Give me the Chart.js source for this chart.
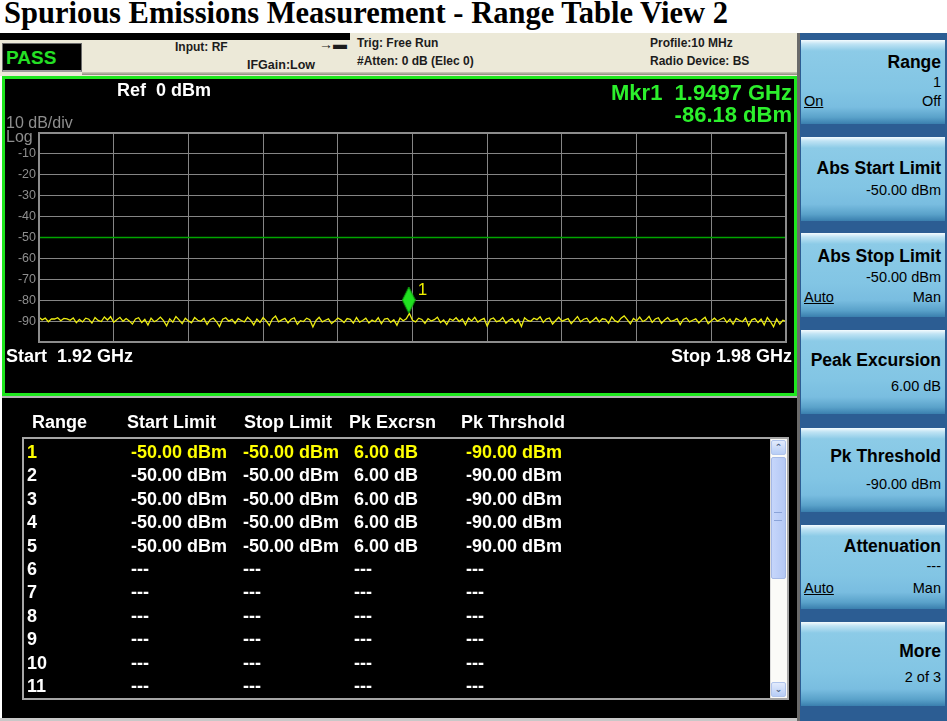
<!DOCTYPE html>
<html>
<head>
<meta charset="utf-8">
<script src="https://cdn.jsdelivr.net/npm/chart.js@4.4.1/dist/chart.umd.min.js"></script>
<style>
  html, body { margin: 0; padding: 0; }
  body { width: 947px; height: 721px; position: relative; overflow: hidden; background: #fff;
         font-family: "Liberation Sans", Arial, sans-serif; }
  .abs { position: absolute; white-space: nowrap; }
  #title { left: 4px; top: -4px; font: bold 30.5px "Liberation Serif", "Times New Roman", serif; color: #000; }
  #status { left: 0; top: 33px; width: 797px; height: 43px; background: #ece9d8; }
  #statusStrip { left: 0; top: 33px; width: 350px; height: 7px; background: #000; }
  #statusShade { left: 82px; top: 72px; width: 715px; height: 3px; background: linear-gradient(#d0cdbd, #8d8a7e); }
  #pass { left: 2px; top: 43px; width: 80px; height: 29px; background: #000; border: 1px solid #6c6c6c;
          border-bottom: 2px solid #9a9a9a; color: #25e025; font: bold 19px/28px "Liberation Sans", Arial, sans-serif; padding-left: 3px; box-sizing: border-box; }
  .st { font: bold 12px "Liberation Sans", Arial, sans-serif; color: #1c1c1c; line-height: 14px; }
  #chartPanel { left: 2px; top: 76px; width: 795px; height: 320px; border: 3px solid #1ee61e; box-sizing: border-box; background: #000; }
  #spec { position: absolute; left: 5px; top: 79px; }
  .wt { color: #fff; font: bold 18px "Liberation Sans", Arial, sans-serif; line-height: 20px; }
  .gr { color: #8e8e8e; font: 16px "Liberation Sans", Arial, sans-serif; line-height: 16px; }
  .mk { color: #2cf02c; font: bold 22px "Liberation Sans", Arial, sans-serif; line-height: 22px; text-align: right; }
  #tablePanel { left: 2px; top: 396px; width: 795px; height: 322px; background: #000; border-top: 2px solid #b4b4b4; box-sizing: border-box; }
  #listBox { left: 22px; top: 437px; width: 767px; height: 263px; border: 2px solid #a6a6a6; box-sizing: border-box; background: #000; }
  .tx { font: bold 18px "Liberation Sans", Arial, sans-serif; line-height: 20px; color: #fff; }
  .hl { color: #ffff00; }
  #sbTrack { left: 770px; top: 439px; width: 17px; height: 259px; background: #fbfbf8; border-left: 1px solid #dcdcdc; box-sizing: border-box; }
  .sbBtn { width: 15px; height: 15px; background: linear-gradient(#e2ebfc, #b7cdf6); border: 1px solid #b0c4ec; border-radius: 2px; box-sizing: border-box;
           color: #4d6185; font: bold 9px/13px "DejaVu Sans", sans-serif; text-align: center; }
  #sbThumb { left: 771px; top: 457px; width: 15px; height: 122px; background: linear-gradient(90deg, #c6d6fb, #b4c8f4); border: 1px solid #a5b9e6; border-radius: 2px; box-sizing: border-box; }
  #rightPanel { left: 797px; top: 33px; width: 150px; height: 688px; background: #2c5d93; border-left: 3px solid #6a6a6a; box-sizing: border-box; }
  .key { left: 801px; width: 144px; height: 84px;
         background: linear-gradient(to bottom, #f4fbfe 0px, #bfe3f4 4px, #8ccbe7 11px, #82c5e4 60%, #79bde0 80%, #5aa2ca 92%, #3a7fae 100%); }
  .kt { font: bold 17.5px "Liberation Sans", Arial, sans-serif; color: #000; line-height: 20px; }
  .kv { font: 14.5px "Liberation Sans", Arial, sans-serif; color: #000; line-height: 16px; }
  #bottomLine { left: 0; top: 718px; width: 797px; height: 3px; background: #c8c8c8; }
</style>
</head>
<body>
<div id="title" class="abs">Spurious Emissions Measurement - Range Table View 2</div>

<div id="status" class="abs"></div>
<div id="statusStrip" class="abs"></div>
<div id="statusShade" class="abs"></div>
<div id="pass" class="abs">PASS</div>
<div class="abs st" style="left:175px; top:40px;">Input: RF</div>
<div class="abs st" style="left:247px; top:58px; font-size:12.5px;">IFGain:Low</div>
<div class="abs st" style="left:319px; top:37px; font-size:14px;">&#8594;&#9644;</div>
<div class="abs st" style="left:357px; top:36px;">Trig: Free Run</div>
<div class="abs st" style="left:357px; top:54px;">#Atten: 0 dB (Elec 0)</div>
<div class="abs st" style="left:650px; top:36px;">Profile:10 MHz</div>
<div class="abs st" style="left:650px; top:54px;">Radio Device: BS</div>

<div id="chartPanel" class="abs"></div>
<canvas id="spec" width="789" height="314"></canvas>
<div class="abs wt" style="left:117px; top:80px;">Ref&nbsp; 0 dBm</div>
<div class="abs gr" style="left:6px; top:115px;">10 dB/div</div>
<div class="abs gr" style="left:6px; top:129px;">Log</div>
<div class="abs mk" style="right:155px; top:82px;">Mkr1&nbsp; 1.9497 GHz</div>
<div class="abs mk" style="right:155px; top:104px;">-86.18 dBm</div>
<div class="abs wt" style="left:6px; top:346px;">Start&nbsp; 1.92 GHz</div>
<div class="abs wt" style="right:155px; top:346px;">Stop 1.98 GHz</div>

<div id="tablePanel" class="abs"></div>
<div id="listBox" class="abs"></div>
<div id="sbTrack" class="abs"></div>
<div class="abs sbBtn" style="left:771px; top:440px;">&#8963;</div>
<div id="sbThumb" class="abs"></div>
<div class="abs" style="left:774px; top:512px; width:8px; height:7px; border-top:1px solid #8aa3d8; border-bottom:1px solid #8aa3d8;"></div>
<div class="abs sbBtn" style="left:771px; top:682px;">&#8964;</div>
<div id="tableText"></div>

<div id="rightPanel" class="abs"></div>
<div id="keys"></div>
<div id="bottomLine" class="abs"></div>

<script>
// ---- spectrum data ----
const startGHz = 1.92;
const stopGHz = 1.98;
const xGridGHz = [1.920, 1.926, 1.932, 1.938, 1.944, 1.950, 1.956, 1.962, 1.968, 1.974, 1.980];
const yGridDbm = [-100, -90, -80, -70, -60, -50, -40, -30, -20, -10, 0];
const limitDbm = -50;
const markerGHz = 1.9497;
const markerDbm = -86.18;

// trace, 241 points across the span
const traceDbm = [
  -88.1, -89.4, -88.6, -90.3, -88.9, -89.0, -88.4, -89.8, -88.7, -88.9, -89.6, -88.5, -90.8, -89.2, -90.4, -88.6, -89.1, -91.0, -88.3, -89.7,
  -90.2, -88.0, -89.5, -87.9, -90.6, -89.3, -88.2, -90.1, -88.8, -89.9, -91.4, -89.0, -88.4, -90.7, -89.2, -91.9, -88.6, -90.3, -89.5, -88.1,
  -89.8, -92.3, -88.9, -90.5, -87.8, -89.4, -91.2, -88.6, -89.9, -90.8, -88.3, -89.6, -90.1, -88.7, -91.6, -89.3, -88.5, -90.2, -92.6, -89.1,
  -88.4, -90.0, -89.2, -91.1, -88.8, -89.7, -90.4, -88.2, -89.5, -91.8, -89.0, -90.6, -88.3, -89.9, -92.1, -88.9, -87.6, -90.3, -89.4, -88.7,
  -90.9, -89.1, -88.4, -91.5, -89.8, -90.2, -88.6, -89.3, -92.8, -89.7, -88.2, -90.4, -89.6, -88.9, -91.2, -90.0, -88.5, -89.4, -90.7, -88.8,
  -89.2, -91.0, -88.3, -90.5, -89.7, -88.6, -90.9, -89.5, -90.3, -88.4, -91.3, -89.0, -88.7, -90.6, -89.4, -92.0, -88.5, -89.8, -88.9, -86.3,
  -89.6, -90.4, -88.6, -89.2, -91.1, -88.8, -90.0, -89.3, -88.1, -90.7, -89.5, -91.6, -88.9, -89.7, -88.4, -90.2, -89.0, -91.8, -88.6, -89.9,
  -88.2, -90.5, -89.4, -88.7, -92.4, -89.1, -88.5, -90.3, -89.8, -88.3, -91.0, -89.6, -88.8, -90.9, -89.2, -92.6, -88.4, -89.7, -90.1, -88.6,
  -89.3, -87.9, -90.6, -89.0, -88.5, -91.4, -89.7, -88.2, -90.0, -89.4, -88.8, -91.2, -89.5, -87.8, -90.3, -89.1, -88.6, -90.8, -89.6, -88.3,
  -90.4, -88.9, -89.2, -91.0, -88.0, -89.8, -90.5, -88.6, -87.5, -89.3, -91.3, -88.7, -89.9, -88.1, -90.2, -89.4, -87.7, -90.6, -89.0, -88.4,
  -91.1, -89.5, -88.3, -90.1, -89.7, -88.8, -91.7, -89.2, -88.5, -90.4, -89.6, -88.9, -90.9, -89.3, -88.2, -91.2, -89.8, -88.6, -90.0, -89.1,
  -88.4, -90.6, -89.0, -91.5, -88.7, -89.6, -90.3, -88.5, -92.2, -89.4, -88.8, -90.7, -89.1, -91.9, -88.3, -90.2, -92.7, -89.0, -91.4, -89.6,
  -90.2
];

// ---- range table ----
const tableHeaders = ['Range', 'Start Limit', 'Stop Limit', 'Pk Excrsn', 'Pk Thrshold'];
const rangeIds = ['1', '2', '3', '4', '5', '6', '7', '8', '9', '10', '11'];
const startLimits = ['-50.00 dBm', '-50.00 dBm', '-50.00 dBm', '-50.00 dBm', '-50.00 dBm', '---', '---', '---', '---', '---', '---'];
const stopLimits = ['-50.00 dBm', '-50.00 dBm', '-50.00 dBm', '-50.00 dBm', '-50.00 dBm', '---', '---', '---', '---', '---', '---'];
const pkExcursions = ['6.00 dB', '6.00 dB', '6.00 dB', '6.00 dB', '6.00 dB', '---', '---', '---', '---', '---', '---'];
const pkThresholds = ['-90.00 dBm', '-90.00 dBm', '-90.00 dBm', '-90.00 dBm', '-90.00 dBm', '---', '---', '---', '---', '---', '---'];

// ---- softkeys ----
const softkeys = [
  { top: 40,  title: 'Range',           value: '1',          left: 'On',   right: 'Off', ys: [22, 42, 61] },
  { top: 137, title: 'Abs Start Limit', value: '-50.00 dBm', ys: [31, 53] },
  { top: 233, title: 'Abs Stop Limit',  value: '-50.00 dBm', left: 'Auto', right: 'Man', ys: [23, 44, 64] },
  { top: 330, title: 'Peak Excursion',  value: '6.00 dB',    ys: [30, 56] },
  { top: 428, title: 'Pk Threshold',    value: '-90.00 dBm', ys: [28, 56] },
  { top: 525, title: 'Attenuation',     value: '---',        left: 'Auto', right: 'Man', ys: [21, 41, 63] },
  { top: 622, title: 'More',            value: '2 of 3',     ys: [29, 55] }
];

// table text
(function () {
  const host = document.getElementById('tableText');
  const colX = [27, 131, 243, 354, 466];
  const headX = [32, 127, 244, 349, 461];
  const put = (txt, x, yc, cls) => {
    const d = document.createElement('div');
    d.className = 'abs tx ' + (cls || '');
    d.style.left = x + 'px';
    d.style.top = (yc - 10) + 'px';
    d.textContent = txt;
    host.appendChild(d);
  };
  tableHeaders.forEach((h, i) => put(h, headX[i], 422));
  rangeIds.forEach((id, r) => {
    const yc = 452 + r * 23.4;
    const cls = r === 0 ? 'hl' : '';
    const cols = [id, startLimits[r], stopLimits[r], pkExcursions[r], pkThresholds[r]];
    cols.forEach((t, c) => put(t, colX[c], yc, cls));
  });
})();

// softkey buttons
(function () {
  const host = document.getElementById('keys');
  softkeys.forEach(k => {
    const b = document.createElement('div');
    b.className = 'abs key';
    b.style.top = k.top + 'px';
    host.appendChild(b);
    const add = (txt, cls, yc, side, under) => {
      const d = document.createElement('div');
      d.className = 'abs ' + cls;
      d.style.top = (k.top + yc - (cls === 'kt' ? 10 : 8)) + 'px';
      if (side === 'left') d.style.left = '804px'; else d.style.right = '6px';
      if (under) d.style.textDecoration = 'underline';
      d.textContent = txt;
      host.appendChild(d);
    };
    add(k.title, 'kt', k.ys[0], 'right');
    add(k.value, 'kv', k.ys[1], 'right');
    if (k.left) {
      add(k.left, 'kv', k.ys[2], 'left', true);
      add(k.right, 'kv', k.ys[2], 'right');
    }
  });
})();

// diamond marker image, bottom tip sits on the data point
function makeDiamond() {
  const c = document.createElement('canvas');
  c.width = 14; c.height = 52;
  const g = c.getContext('2d');
  g.beginPath();
  g.moveTo(7, 0); g.lineTo(13.5, 13); g.lineTo(7, 26); g.lineTo(0.5, 13); g.closePath();
  g.fillStyle = '#20e020';
  g.fill();
  g.strokeStyle = '#0c9a0c';
  g.lineWidth = 1;
  g.stroke();
  return c;
}

const step = (stopGHz - startGHz) / (traceDbm.length - 1);
const tracePts = traceDbm.map((v, i) => ({ x: startGHz + i * step, y: v }));

const framePlugin = {
  id: 'frame',
  afterDraw(chart) {
    const a = chart.chartArea, ctx = chart.ctx;
    ctx.save();
    ctx.strokeStyle = '#8c8c8c';
    ctx.lineWidth = 2;
    ctx.strokeRect(a.left, a.top, a.right - a.left, a.bottom - a.top);
    ctx.restore();
  }
};

const markerLabel = {
  id: 'markerLabel',
  afterDatasetsDraw(chart) {
    const pt = chart.getDatasetMeta(2).data[0];
    if (!pt) return;
    const ctx = chart.ctx;
    ctx.save();
    ctx.fillStyle = '#f0f000';
    ctx.font = '17px "Liberation Sans", Arial, sans-serif';
    ctx.textBaseline = 'alphabetic';
    ctx.fillText('1', pt.x + 9, pt.y - 18);
    ctx.restore();
  }
};

new Chart(document.getElementById('spec'), {
  type: 'line',
  data: {
    datasets: [
      {
        label: 'Limit',
        data: [{ x: startGHz, y: limitDbm }, { x: stopGHz, y: limitDbm }],
        borderColor: '#00a400',
        borderWidth: 1.5,
        pointRadius: 0,
        order: 3
      },
      {
        label: 'Trace',
        data: tracePts,
        borderColor: '#eeee10',
        borderWidth: 1.3,
        pointRadius: 0,
        tension: 0,
        order: 2
      },
      {
        label: 'Mkr1',
        data: [{ x: markerGHz, y: markerDbm }],
        showLine: false,
        pointStyle: makeDiamond(),
        pointRadius: 7,
        order: 1
      }
    ]
  },
  options: {
    responsive: false,
    animation: false,
    events: [],
    layout: { padding: { top: 54, right: 1, left: 0, bottom: 0 } },
    plugins: { legend: { display: false }, tooltip: { enabled: false } },
    scales: {
      x: {
        type: 'linear',
        min: startGHz,
        max: stopGHz,
        afterBuildTicks: s => { s.ticks = xGridGHz.map(v => ({ value: v })); },
        afterFit: s => { s.height = 51; },
        ticks: { display: false },
        grid: { color: '#858585', lineWidth: 1, drawTicks: false },
        border: { display: false }
      },
      y: {
        min: -100,
        max: 0,
        afterBuildTicks: s => { s.ticks = yGridDbm.map(v => ({ value: v })); },
        afterFit: s => { s.width = 34; },
        ticks: {
          color: '#8e8e8e',
          padding: 3,
          font: { family: '"Liberation Sans", Arial, sans-serif', size: 12.5 },
          callback: v => (v === 0 || v === -100) ? '' : String(v)
        },
        grid: { color: '#858585', lineWidth: 1, drawTicks: false },
        border: { display: false }
      }
    }
  },
  plugins: [framePlugin, markerLabel]
});
</script>
</body>
</html>
